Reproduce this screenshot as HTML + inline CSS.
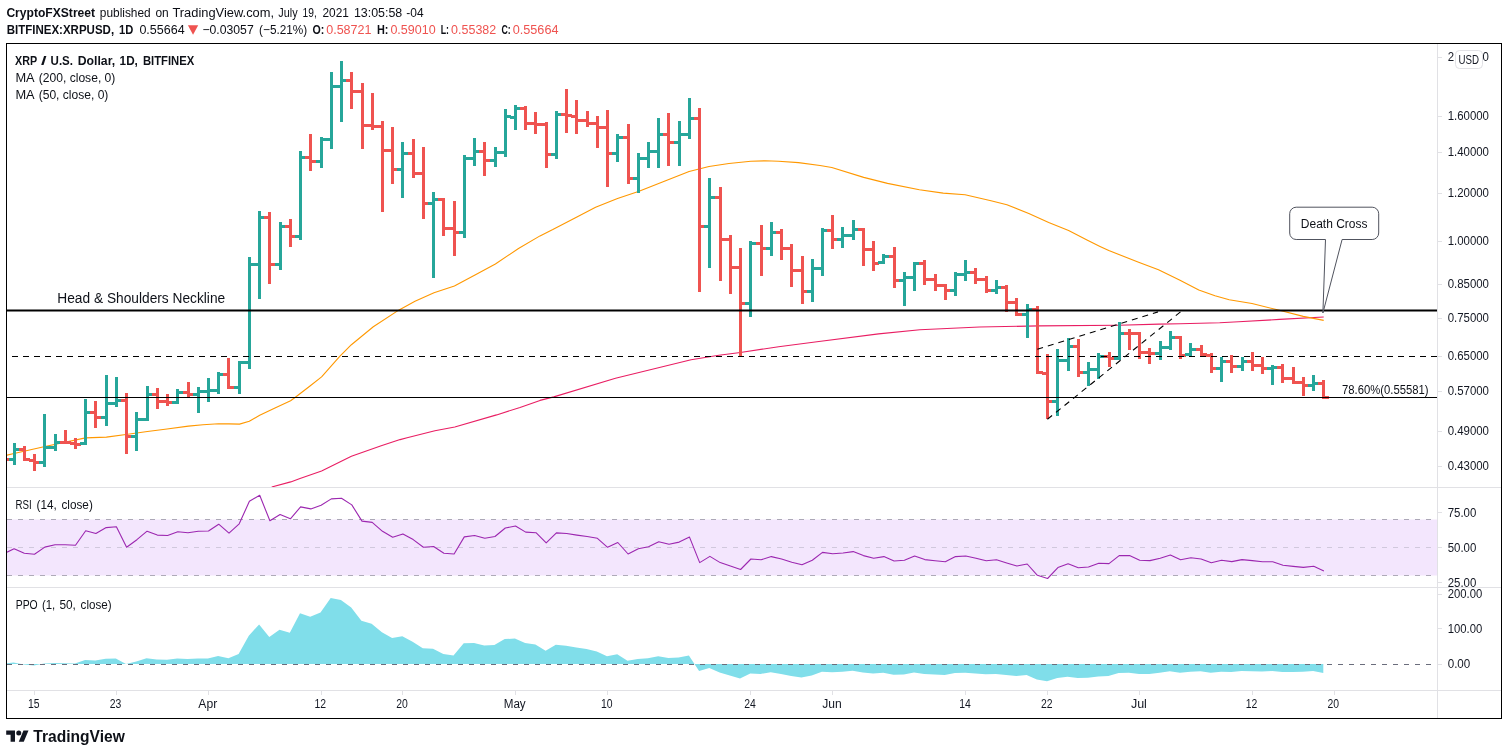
<!DOCTYPE html><html><head><meta charset="utf-8"><title>XRPUSD</title><style>html,body{margin:0;padding:0;background:#fff;}body{width:1508px;height:755px;position:relative;overflow:hidden;font-family:"Liberation Sans",sans-serif;}</style></head><body>
<svg width="1508" height="755" viewBox="0 0 1508 755" style="position:absolute;left:0;top:0;will-change:transform">
<defs><clipPath id="cm"><rect x="7" y="44" width="1430" height="443"/></clipPath><clipPath id="cr"><rect x="7" y="488" width="1430" height="99"/></clipPath><clipPath id="cp"><rect x="7" y="588" width="1430" height="102"/></clipPath><clipPath id="cax1"><rect x="1438" y="44" width="63" height="443"/></clipPath><clipPath id="cax2"><rect x="1438" y="488" width="63" height="99"/></clipPath><clipPath id="cax3"><rect x="1438" y="588" width="63" height="102"/></clipPath></defs>
<rect x="0" y="0" width="1508" height="755" fill="#fff"/>
<g clip-path="url(#cr)">
<rect x="7" y="519.5" width="1430" height="56" fill="#f3e6fd"/>
<line x1="7" y1="519.5" x2="1437" y2="519.5" stroke="#aca8b7" stroke-width="1" stroke-dasharray="5 6" shape-rendering="crispEdges"/>
<line x1="7" y1="547.5" x2="1437" y2="547.5" stroke="#d0c8dc" stroke-width="1" stroke-dasharray="5 6" shape-rendering="crispEdges"/>
<line x1="7" y1="575.5" x2="1437" y2="575.5" stroke="#aeaab8" stroke-width="1" stroke-dasharray="5 6" shape-rendering="crispEdges"/>
<polyline fill="none" stroke="#9c27b0" stroke-width="1.1" stroke-linejoin="round" points="7.0,552.2 14.1,548.7 24.3,553.2 34.5,554.2 44.8,547.1 55.0,544.7 65.2,544.7 75.5,545.3 85.7,530.8 95.9,533.5 106.2,527.6 116.4,526.8 126.6,547.3 136.9,539.7 147.1,531.2 157.3,535.1 167.6,535.5 177.8,531.7 188.0,532.7 198.3,531.2 208.5,531.0 218.7,524.2 229.0,533.1 239.2,523.8 249.4,501.3 259.7,495.3 269.9,520.8 280.1,514.5 290.4,518.8 300.6,506.9 310.8,508.9 321.1,505.3 331.3,498.9 341.5,498.3 351.8,504.9 362.0,521.1 372.2,522.4 382.5,531.3 392.7,537.3 402.9,533.9 413.2,539.6 423.4,547.3 433.6,546.5 443.9,553.2 454.1,554.0 464.3,536.9 474.6,535.5 484.8,538.3 495.0,536.5 505.3,528.0 515.5,526.0 525.7,532.1 536.0,532.7 546.2,542.9 556.4,532.9 566.7,533.5 576.9,535.1 587.1,536.5 597.4,538.3 607.6,547.3 617.8,542.5 628.1,554.0 638.3,548.7 648.5,546.7 658.8,541.7 669.0,544.3 679.2,542.1 689.5,537.1 699.7,562.6 709.9,556.4 720.2,562.6 730.4,566.0 740.6,569.5 750.9,559.0 761.1,559.8 771.3,556.6 781.6,559.0 791.8,562.2 802.0,564.8 812.3,560.2 822.5,552.4 832.7,553.8 843.0,553.0 853.2,551.6 863.4,555.6 873.7,558.2 883.9,556.6 894.1,561.0 904.4,560.2 914.6,556.0 924.8,559.6 935.1,560.8 945.3,561.8 955.5,556.6 965.8,556.0 976.0,558.2 986.2,560.8 996.5,559.8 1006.7,563.0 1016.9,566.0 1027.2,564.0 1037.4,575.3 1047.6,578.5 1057.9,567.6 1068.1,563.8 1078.3,567.8 1088.5,567.0 1098.8,563.2 1109.0,563.6 1119.2,555.6 1129.5,555.6 1139.7,560.2 1149.9,560.6 1160.2,558.2 1170.4,555.0 1180.6,559.8 1190.9,557.8 1201.1,559.0 1211.3,562.8 1221.6,560.2 1231.8,561.6 1242.0,559.6 1252.3,560.6 1262.5,561.8 1272.7,561.8 1283.0,565.2 1293.2,566.4 1303.4,567.4 1313.7,566.2 1323.9,570.9"/>
</g>
<g clip-path="url(#cp)">
<polygon fill="#80deea" points="7.0,664.0 7.0,663.2 13.5,662.6 23.7,664.6 33.9,665.6 44.2,663.6 54.4,663.0 64.6,663.2 74.9,663.4 85.1,660.0 95.3,660.6 105.6,658.8 115.8,658.6 126.0,664.0 136.3,661.6 146.5,658.2 156.7,659.4 167.0,659.8 177.2,658.4 187.4,659.0 197.7,658.6 207.9,658.6 218.1,656.0 228.4,658.2 238.6,654.0 248.8,635.7 259.1,624.4 269.3,637.1 279.5,629.8 289.8,632.7 300.0,613.2 310.2,616.8 320.5,612.5 330.7,597.9 340.9,599.9 351.2,607.5 361.4,620.8 371.6,623.8 381.9,632.3 392.1,637.9 402.3,636.3 412.6,641.7 422.8,648.3 433.0,648.7 443.3,654.0 453.5,655.4 463.7,643.3 474.0,642.9 484.2,645.5 494.4,645.1 504.7,639.1 514.9,638.5 525.1,642.9 535.4,644.5 545.6,650.8 555.8,644.7 566.1,645.7 576.3,647.5 586.5,649.1 596.8,651.4 607.0,656.2 617.2,654.2 627.5,660.8 637.7,659.0 647.9,658.2 658.2,656.2 668.4,658.0 678.6,657.4 688.9,655.4 699.1,670.9 709.3,668.0 719.6,672.5 729.8,675.5 740.0,678.5 750.3,673.5 760.5,673.9 770.7,672.3 781.0,673.9 791.2,676.1 801.4,677.5 811.7,675.5 821.9,671.7 832.1,672.3 842.4,671.7 852.6,670.7 862.8,672.5 873.1,673.5 883.3,672.7 893.5,674.7 903.8,674.4 914.0,672.5 924.2,673.9 934.5,674.5 944.7,674.9 954.9,673.1 965.2,672.7 975.4,673.5 985.6,674.3 995.9,673.9 1006.1,674.9 1016.3,675.9 1026.6,674.9 1036.8,679.5 1047.0,681.3 1057.3,678.1 1067.5,676.7 1077.7,678.1 1087.9,677.7 1098.2,676.5 1108.4,675.9 1118.6,673.1 1128.9,672.7 1139.1,674.1 1149.3,673.9 1159.6,672.7 1169.8,671.3 1180.0,672.7 1190.3,671.7 1200.5,671.3 1210.7,672.7 1221.0,671.7 1231.2,671.9 1241.4,670.9 1251.7,671.3 1261.9,671.5 1272.1,671.1 1282.4,671.9 1292.6,671.9 1302.8,671.7 1313.1,671.1 1323.3,673.1 1323.3,664.0"/>
<line x1="7" y1="664.5" x2="1437" y2="664.5" stroke="#6a6d7c" stroke-width="1" stroke-dasharray="5 6" shape-rendering="crispEdges"/>
</g>
<rect x="7" y="487" width="1494" height="1" fill="#e1e1e5"/>
<rect x="7" y="587" width="1494" height="1" fill="#e1e1e5"/>
<rect x="7" y="690" width="1494" height="1" fill="#e1e1e5"/>
<rect x="1437" y="44" width="1" height="674" fill="#e1e1e5"/>
<g clip-path="url(#cm)">
<polyline fill="none" stroke="#e91e63" stroke-width="1.1" stroke-linejoin="round" points="271.7,487.0 290.7,481.9 300.0,478.5 321.6,471.0 351.4,456.2 381.2,445.7 400.1,439.6 407.1,437.7 434.9,430.8 454.8,427.0 496.6,414.9 520.0,407.4 540.0,400.4 553.8,396.9 615.5,378.2 691.1,359.7 718.9,355.3 740.4,352.5 778.6,346.7 818.9,341.5 878.6,333.9 919.9,329.7 979.5,327.0 1039.1,325.9 1118.7,325.2 1159.0,324.1 1180.0,323.8 1219.7,322.8 1238.6,321.8 1279.4,319.4 1323.7,317.0"/>
<polyline fill="none" stroke="#ff9800" stroke-width="1.1" stroke-linejoin="round" points="6.0,455.4 14.0,453.5 45.0,446.5 85.5,437.9 106.4,437.1 126.0,434.5 147.4,431.5 167.0,429.0 188.4,426.1 203.0,424.8 218.4,423.7 229.0,423.9 239.5,424.1 249.3,421.3 259.7,415.2 275.0,408.0 290.6,400.8 295.7,397.0 310.0,386.0 321.6,376.9 339.5,356.6 351.4,344.7 373.3,326.8 399.1,309.9 415.0,301.3 434.0,292.8 454.4,285.9 475.0,275.0 495.4,264.0 518.5,248.5 540.0,235.9 552.8,229.6 575.0,218.0 595.6,207.3 617.5,198.4 638.4,191.4 665.0,181.0 689.1,171.5 709.0,166.5 728.9,163.5 750.8,161.2 765.0,160.8 778.6,161.2 798.5,162.6 820.0,165.5 831.8,167.5 863.7,177.4 887.5,183.4 919.4,189.7 943.2,193.1 965.1,194.7 991.0,200.7 1006.9,204.7 1028.8,213.6 1048.7,222.6 1068.6,230.5 1087.0,240.0 1100.0,246.4 1108.8,250.5 1138.6,262.3 1158.5,269.8 1180.0,280.2 1198.8,290.0 1215.0,295.8 1229.2,299.7 1252.0,303.5 1277.4,309.8 1303.2,316.4 1323.7,320.4"/>
<g shape-rendering="crispEdges">
<rect x="5" y="458" width="4" height="3" fill="#ef5350"/>
<rect x="13" y="443" width="3" height="22" fill="#26a69a"/>
<rect x="9" y="458" width="4" height="3" fill="#26a69a"/>
<rect x="16" y="448" width="4" height="3" fill="#26a69a"/>
<rect x="23" y="446" width="3" height="15" fill="#ef5350"/>
<rect x="19" y="448" width="4" height="3" fill="#ef5350"/>
<rect x="26" y="458" width="4" height="3" fill="#ef5350"/>
<rect x="33" y="454" width="3" height="17" fill="#ef5350"/>
<rect x="29" y="459" width="4" height="3" fill="#ef5350"/>
<rect x="36" y="461" width="4" height="3" fill="#ef5350"/>
<rect x="43" y="414" width="3" height="53" fill="#26a69a"/>
<rect x="39" y="461" width="4" height="3" fill="#26a69a"/>
<rect x="46" y="446" width="4" height="3" fill="#26a69a"/>
<rect x="54" y="434" width="3" height="17" fill="#26a69a"/>
<rect x="50" y="446" width="4" height="3" fill="#26a69a"/>
<rect x="57" y="441" width="4" height="3" fill="#26a69a"/>
<rect x="64" y="430" width="3" height="14" fill="#ef5350"/>
<rect x="60" y="441" width="4" height="3" fill="#ef5350"/>
<rect x="67" y="441" width="4" height="3" fill="#ef5350"/>
<rect x="74" y="438" width="3" height="11" fill="#ef5350"/>
<rect x="70" y="442" width="4" height="3" fill="#ef5350"/>
<rect x="77" y="443" width="4" height="3" fill="#ef5350"/>
<rect x="84" y="399" width="3" height="46" fill="#26a69a"/>
<rect x="80" y="442" width="4" height="3" fill="#26a69a"/>
<rect x="87" y="411" width="4" height="3" fill="#26a69a"/>
<rect x="94" y="401" width="3" height="27" fill="#ef5350"/>
<rect x="90" y="411" width="4" height="3" fill="#ef5350"/>
<rect x="97" y="416" width="4" height="3" fill="#ef5350"/>
<rect x="105" y="375" width="3" height="51" fill="#26a69a"/>
<rect x="101" y="416" width="4" height="3" fill="#26a69a"/>
<rect x="108" y="402" width="4" height="3" fill="#26a69a"/>
<rect x="115" y="377" width="3" height="30" fill="#26a69a"/>
<rect x="111" y="402" width="4" height="3" fill="#26a69a"/>
<rect x="118" y="399" width="4" height="3" fill="#26a69a"/>
<rect x="125" y="393" width="3" height="61" fill="#ef5350"/>
<rect x="121" y="399" width="4" height="3" fill="#ef5350"/>
<rect x="128" y="435" width="4" height="3" fill="#ef5350"/>
<rect x="135" y="412" width="3" height="39" fill="#26a69a"/>
<rect x="131" y="435" width="4" height="3" fill="#26a69a"/>
<rect x="138" y="418" width="4" height="3" fill="#26a69a"/>
<rect x="146" y="386" width="3" height="35" fill="#26a69a"/>
<rect x="142" y="418" width="4" height="3" fill="#26a69a"/>
<rect x="149" y="393" width="4" height="3" fill="#26a69a"/>
<rect x="156" y="388" width="3" height="21" fill="#ef5350"/>
<rect x="152" y="393" width="4" height="3" fill="#ef5350"/>
<rect x="159" y="400" width="4" height="3" fill="#ef5350"/>
<rect x="166" y="394" width="3" height="12" fill="#ef5350"/>
<rect x="162" y="400" width="4" height="3" fill="#ef5350"/>
<rect x="169" y="401" width="4" height="3" fill="#ef5350"/>
<rect x="176" y="389" width="3" height="15" fill="#26a69a"/>
<rect x="172" y="401" width="4" height="3" fill="#26a69a"/>
<rect x="179" y="391" width="4" height="3" fill="#26a69a"/>
<rect x="187" y="382" width="3" height="15" fill="#ef5350"/>
<rect x="183" y="391" width="4" height="3" fill="#ef5350"/>
<rect x="190" y="393" width="4" height="3" fill="#ef5350"/>
<rect x="197" y="387" width="3" height="26" fill="#26a69a"/>
<rect x="193" y="393" width="4" height="3" fill="#26a69a"/>
<rect x="200" y="390" width="4" height="3" fill="#26a69a"/>
<rect x="207" y="378" width="3" height="24" fill="#26a69a"/>
<rect x="203" y="390" width="4" height="3" fill="#26a69a"/>
<rect x="210" y="389" width="4" height="3" fill="#26a69a"/>
<rect x="217" y="372" width="3" height="22" fill="#26a69a"/>
<rect x="213" y="389" width="4" height="3" fill="#26a69a"/>
<rect x="220" y="373" width="4" height="3" fill="#26a69a"/>
<rect x="227" y="358" width="3" height="31" fill="#ef5350"/>
<rect x="223" y="373" width="4" height="3" fill="#ef5350"/>
<rect x="230" y="386" width="4" height="3" fill="#ef5350"/>
<rect x="238" y="361" width="3" height="33" fill="#26a69a"/>
<rect x="234" y="386" width="4" height="3" fill="#26a69a"/>
<rect x="241" y="361" width="4" height="3" fill="#26a69a"/>
<rect x="248" y="257" width="3" height="112" fill="#26a69a"/>
<rect x="244" y="361" width="4" height="3" fill="#26a69a"/>
<rect x="251" y="263" width="4" height="3" fill="#26a69a"/>
<rect x="258" y="211" width="3" height="88" fill="#26a69a"/>
<rect x="254" y="263" width="4" height="3" fill="#26a69a"/>
<rect x="261" y="216" width="4" height="3" fill="#26a69a"/>
<rect x="268" y="212" width="3" height="72" fill="#ef5350"/>
<rect x="264" y="216" width="4" height="3" fill="#ef5350"/>
<rect x="271" y="263" width="4" height="3" fill="#ef5350"/>
<rect x="279" y="222" width="3" height="48" fill="#26a69a"/>
<rect x="275" y="263" width="4" height="3" fill="#26a69a"/>
<rect x="282" y="225" width="4" height="3" fill="#26a69a"/>
<rect x="289" y="219" width="3" height="28" fill="#ef5350"/>
<rect x="285" y="225" width="4" height="3" fill="#ef5350"/>
<rect x="292" y="235" width="4" height="3" fill="#ef5350"/>
<rect x="299" y="151" width="3" height="89" fill="#26a69a"/>
<rect x="295" y="235" width="4" height="3" fill="#26a69a"/>
<rect x="302" y="156" width="4" height="3" fill="#26a69a"/>
<rect x="309" y="134" width="3" height="37" fill="#ef5350"/>
<rect x="305" y="156" width="4" height="3" fill="#ef5350"/>
<rect x="312" y="160" width="4" height="3" fill="#ef5350"/>
<rect x="320" y="137" width="3" height="31" fill="#26a69a"/>
<rect x="316" y="160" width="4" height="3" fill="#26a69a"/>
<rect x="323" y="138" width="4" height="3" fill="#26a69a"/>
<rect x="330" y="72" width="3" height="77" fill="#26a69a"/>
<rect x="326" y="138" width="4" height="3" fill="#26a69a"/>
<rect x="333" y="85" width="4" height="3" fill="#26a69a"/>
<rect x="340" y="61" width="3" height="61" fill="#26a69a"/>
<rect x="336" y="85" width="4" height="3" fill="#26a69a"/>
<rect x="343" y="79" width="4" height="3" fill="#26a69a"/>
<rect x="350" y="72" width="3" height="37" fill="#ef5350"/>
<rect x="346" y="79" width="4" height="3" fill="#ef5350"/>
<rect x="353" y="90" width="4" height="3" fill="#ef5350"/>
<rect x="361" y="83" width="3" height="66" fill="#ef5350"/>
<rect x="357" y="90" width="4" height="3" fill="#ef5350"/>
<rect x="364" y="124" width="4" height="3" fill="#ef5350"/>
<rect x="371" y="93" width="3" height="37" fill="#ef5350"/>
<rect x="367" y="124" width="4" height="3" fill="#ef5350"/>
<rect x="374" y="125" width="4" height="3" fill="#ef5350"/>
<rect x="381" y="121" width="3" height="91" fill="#ef5350"/>
<rect x="377" y="125" width="4" height="3" fill="#ef5350"/>
<rect x="384" y="149" width="4" height="3" fill="#ef5350"/>
<rect x="391" y="127" width="3" height="57" fill="#ef5350"/>
<rect x="387" y="149" width="4" height="3" fill="#ef5350"/>
<rect x="394" y="168" width="4" height="3" fill="#ef5350"/>
<rect x="401" y="142" width="3" height="56" fill="#26a69a"/>
<rect x="397" y="168" width="4" height="3" fill="#26a69a"/>
<rect x="404" y="152" width="4" height="3" fill="#26a69a"/>
<rect x="412" y="139" width="3" height="39" fill="#ef5350"/>
<rect x="408" y="152" width="4" height="3" fill="#ef5350"/>
<rect x="415" y="172" width="4" height="3" fill="#ef5350"/>
<rect x="422" y="147" width="3" height="72" fill="#ef5350"/>
<rect x="418" y="172" width="4" height="3" fill="#ef5350"/>
<rect x="425" y="202" width="4" height="3" fill="#ef5350"/>
<rect x="432" y="192" width="3" height="86" fill="#26a69a"/>
<rect x="428" y="202" width="4" height="3" fill="#26a69a"/>
<rect x="435" y="198" width="4" height="3" fill="#26a69a"/>
<rect x="442" y="198" width="3" height="38" fill="#ef5350"/>
<rect x="438" y="198" width="4" height="3" fill="#ef5350"/>
<rect x="445" y="227" width="4" height="3" fill="#ef5350"/>
<rect x="453" y="201" width="3" height="55" fill="#ef5350"/>
<rect x="449" y="227" width="4" height="3" fill="#ef5350"/>
<rect x="456" y="231" width="4" height="3" fill="#ef5350"/>
<rect x="463" y="155" width="3" height="83" fill="#26a69a"/>
<rect x="459" y="231" width="4" height="3" fill="#26a69a"/>
<rect x="466" y="157" width="4" height="3" fill="#26a69a"/>
<rect x="473" y="138" width="3" height="28" fill="#26a69a"/>
<rect x="469" y="157" width="4" height="3" fill="#26a69a"/>
<rect x="476" y="150" width="4" height="3" fill="#26a69a"/>
<rect x="483" y="142" width="3" height="34" fill="#ef5350"/>
<rect x="479" y="150" width="4" height="3" fill="#ef5350"/>
<rect x="486" y="159" width="4" height="3" fill="#ef5350"/>
<rect x="494" y="147" width="3" height="20" fill="#26a69a"/>
<rect x="490" y="159" width="4" height="3" fill="#26a69a"/>
<rect x="497" y="151" width="4" height="3" fill="#26a69a"/>
<rect x="504" y="109" width="3" height="48" fill="#26a69a"/>
<rect x="500" y="151" width="4" height="3" fill="#26a69a"/>
<rect x="507" y="115" width="4" height="3" fill="#26a69a"/>
<rect x="514" y="105" width="3" height="25" fill="#26a69a"/>
<rect x="510" y="116" width="4" height="3" fill="#26a69a"/>
<rect x="517" y="107" width="4" height="3" fill="#26a69a"/>
<rect x="524" y="106" width="3" height="24" fill="#ef5350"/>
<rect x="520" y="107" width="4" height="3" fill="#ef5350"/>
<rect x="527" y="122" width="4" height="3" fill="#ef5350"/>
<rect x="534" y="112" width="3" height="22" fill="#ef5350"/>
<rect x="530" y="122" width="4" height="3" fill="#ef5350"/>
<rect x="537" y="123" width="4" height="3" fill="#ef5350"/>
<rect x="545" y="122" width="3" height="46" fill="#ef5350"/>
<rect x="541" y="123" width="4" height="3" fill="#ef5350"/>
<rect x="548" y="153" width="4" height="3" fill="#ef5350"/>
<rect x="555" y="111" width="3" height="48" fill="#26a69a"/>
<rect x="551" y="153" width="4" height="3" fill="#26a69a"/>
<rect x="558" y="113" width="4" height="3" fill="#26a69a"/>
<rect x="565" y="89" width="3" height="44" fill="#ef5350"/>
<rect x="561" y="113" width="4" height="3" fill="#ef5350"/>
<rect x="568" y="114" width="4" height="3" fill="#ef5350"/>
<rect x="575" y="100" width="3" height="34" fill="#ef5350"/>
<rect x="571" y="115" width="4" height="3" fill="#ef5350"/>
<rect x="578" y="119" width="4" height="3" fill="#ef5350"/>
<rect x="586" y="111" width="3" height="16" fill="#ef5350"/>
<rect x="582" y="119" width="4" height="3" fill="#ef5350"/>
<rect x="589" y="122" width="4" height="3" fill="#ef5350"/>
<rect x="596" y="116" width="3" height="32" fill="#ef5350"/>
<rect x="592" y="122" width="4" height="3" fill="#ef5350"/>
<rect x="599" y="126" width="4" height="3" fill="#ef5350"/>
<rect x="606" y="110" width="3" height="77" fill="#ef5350"/>
<rect x="602" y="126" width="4" height="3" fill="#ef5350"/>
<rect x="609" y="152" width="4" height="3" fill="#ef5350"/>
<rect x="616" y="134" width="3" height="28" fill="#26a69a"/>
<rect x="612" y="152" width="4" height="3" fill="#26a69a"/>
<rect x="619" y="136" width="4" height="3" fill="#26a69a"/>
<rect x="627" y="124" width="3" height="60" fill="#ef5350"/>
<rect x="623" y="136" width="4" height="3" fill="#ef5350"/>
<rect x="630" y="177" width="4" height="3" fill="#ef5350"/>
<rect x="637" y="153" width="3" height="40" fill="#26a69a"/>
<rect x="633" y="177" width="4" height="3" fill="#26a69a"/>
<rect x="640" y="157" width="4" height="3" fill="#26a69a"/>
<rect x="647" y="142" width="3" height="26" fill="#26a69a"/>
<rect x="643" y="157" width="4" height="3" fill="#26a69a"/>
<rect x="650" y="150" width="4" height="3" fill="#26a69a"/>
<rect x="657" y="118" width="3" height="50" fill="#26a69a"/>
<rect x="653" y="150" width="4" height="3" fill="#26a69a"/>
<rect x="660" y="133" width="4" height="3" fill="#26a69a"/>
<rect x="667" y="113" width="3" height="53" fill="#ef5350"/>
<rect x="663" y="133" width="4" height="3" fill="#ef5350"/>
<rect x="670" y="141" width="4" height="3" fill="#ef5350"/>
<rect x="678" y="121" width="3" height="45" fill="#26a69a"/>
<rect x="674" y="141" width="4" height="3" fill="#26a69a"/>
<rect x="681" y="133" width="4" height="3" fill="#26a69a"/>
<rect x="688" y="98" width="3" height="41" fill="#26a69a"/>
<rect x="684" y="133" width="4" height="3" fill="#26a69a"/>
<rect x="691" y="117" width="4" height="3" fill="#26a69a"/>
<rect x="698" y="108" width="3" height="184" fill="#ef5350"/>
<rect x="694" y="117" width="4" height="3" fill="#ef5350"/>
<rect x="701" y="225" width="4" height="3" fill="#ef5350"/>
<rect x="708" y="178" width="3" height="90" fill="#26a69a"/>
<rect x="704" y="225" width="4" height="3" fill="#26a69a"/>
<rect x="711" y="196" width="4" height="3" fill="#26a69a"/>
<rect x="719" y="187" width="3" height="94" fill="#ef5350"/>
<rect x="715" y="196" width="4" height="3" fill="#ef5350"/>
<rect x="722" y="238" width="4" height="3" fill="#ef5350"/>
<rect x="729" y="235" width="3" height="59" fill="#ef5350"/>
<rect x="725" y="238" width="4" height="3" fill="#ef5350"/>
<rect x="732" y="266" width="4" height="3" fill="#ef5350"/>
<rect x="739" y="248" width="3" height="108" fill="#ef5350"/>
<rect x="735" y="266" width="4" height="3" fill="#ef5350"/>
<rect x="742" y="302" width="4" height="3" fill="#ef5350"/>
<rect x="749" y="241" width="3" height="76" fill="#26a69a"/>
<rect x="745" y="302" width="4" height="3" fill="#26a69a"/>
<rect x="752" y="242" width="4" height="3" fill="#26a69a"/>
<rect x="760" y="225" width="3" height="51" fill="#ef5350"/>
<rect x="756" y="242" width="4" height="3" fill="#ef5350"/>
<rect x="763" y="247" width="4" height="3" fill="#ef5350"/>
<rect x="770" y="222" width="3" height="34" fill="#26a69a"/>
<rect x="766" y="247" width="4" height="3" fill="#26a69a"/>
<rect x="773" y="231" width="4" height="3" fill="#26a69a"/>
<rect x="780" y="229" width="3" height="31" fill="#ef5350"/>
<rect x="776" y="231" width="4" height="3" fill="#ef5350"/>
<rect x="783" y="247" width="4" height="3" fill="#ef5350"/>
<rect x="790" y="244" width="3" height="43" fill="#ef5350"/>
<rect x="786" y="247" width="4" height="3" fill="#ef5350"/>
<rect x="793" y="269" width="4" height="3" fill="#ef5350"/>
<rect x="801" y="256" width="3" height="48" fill="#ef5350"/>
<rect x="797" y="269" width="4" height="3" fill="#ef5350"/>
<rect x="804" y="290" width="4" height="3" fill="#ef5350"/>
<rect x="811" y="259" width="3" height="43" fill="#26a69a"/>
<rect x="807" y="290" width="4" height="3" fill="#26a69a"/>
<rect x="814" y="267" width="4" height="3" fill="#26a69a"/>
<rect x="821" y="228" width="3" height="48" fill="#26a69a"/>
<rect x="817" y="267" width="4" height="3" fill="#26a69a"/>
<rect x="824" y="229" width="4" height="3" fill="#26a69a"/>
<rect x="831" y="215" width="3" height="34" fill="#ef5350"/>
<rect x="827" y="229" width="4" height="3" fill="#ef5350"/>
<rect x="834" y="238" width="4" height="3" fill="#ef5350"/>
<rect x="841" y="227" width="3" height="21" fill="#26a69a"/>
<rect x="837" y="238" width="4" height="3" fill="#26a69a"/>
<rect x="844" y="234" width="4" height="3" fill="#26a69a"/>
<rect x="852" y="220" width="3" height="20" fill="#26a69a"/>
<rect x="848" y="234" width="4" height="3" fill="#26a69a"/>
<rect x="855" y="228" width="4" height="3" fill="#26a69a"/>
<rect x="862" y="228" width="3" height="38" fill="#ef5350"/>
<rect x="858" y="228" width="4" height="3" fill="#ef5350"/>
<rect x="865" y="248" width="4" height="3" fill="#ef5350"/>
<rect x="872" y="241" width="3" height="30" fill="#ef5350"/>
<rect x="868" y="248" width="4" height="3" fill="#ef5350"/>
<rect x="875" y="262" width="4" height="3" fill="#ef5350"/>
<rect x="882" y="254" width="3" height="10" fill="#26a69a"/>
<rect x="878" y="261" width="4" height="3" fill="#26a69a"/>
<rect x="885" y="255" width="4" height="3" fill="#26a69a"/>
<rect x="893" y="247" width="3" height="41" fill="#ef5350"/>
<rect x="889" y="255" width="4" height="3" fill="#ef5350"/>
<rect x="896" y="279" width="4" height="3" fill="#ef5350"/>
<rect x="903" y="272" width="3" height="34" fill="#26a69a"/>
<rect x="899" y="279" width="4" height="3" fill="#26a69a"/>
<rect x="906" y="276" width="4" height="3" fill="#26a69a"/>
<rect x="913" y="262" width="3" height="29" fill="#26a69a"/>
<rect x="909" y="276" width="4" height="3" fill="#26a69a"/>
<rect x="916" y="262" width="4" height="3" fill="#26a69a"/>
<rect x="923" y="260" width="3" height="25" fill="#ef5350"/>
<rect x="919" y="262" width="4" height="3" fill="#ef5350"/>
<rect x="926" y="278" width="4" height="3" fill="#ef5350"/>
<rect x="934" y="274" width="3" height="17" fill="#ef5350"/>
<rect x="930" y="278" width="4" height="3" fill="#ef5350"/>
<rect x="937" y="284" width="4" height="3" fill="#ef5350"/>
<rect x="944" y="284" width="3" height="16" fill="#ef5350"/>
<rect x="940" y="284" width="4" height="3" fill="#ef5350"/>
<rect x="947" y="289" width="4" height="3" fill="#ef5350"/>
<rect x="954" y="272" width="3" height="24" fill="#26a69a"/>
<rect x="950" y="289" width="4" height="3" fill="#26a69a"/>
<rect x="957" y="273" width="4" height="3" fill="#26a69a"/>
<rect x="964" y="260" width="3" height="21" fill="#26a69a"/>
<rect x="960" y="273" width="4" height="3" fill="#26a69a"/>
<rect x="967" y="271" width="4" height="3" fill="#26a69a"/>
<rect x="974" y="268" width="3" height="16" fill="#ef5350"/>
<rect x="970" y="271" width="4" height="3" fill="#ef5350"/>
<rect x="977" y="278" width="4" height="3" fill="#ef5350"/>
<rect x="985" y="276" width="3" height="17" fill="#ef5350"/>
<rect x="981" y="278" width="4" height="3" fill="#ef5350"/>
<rect x="988" y="289" width="4" height="3" fill="#ef5350"/>
<rect x="995" y="280" width="3" height="14" fill="#26a69a"/>
<rect x="991" y="289" width="4" height="3" fill="#26a69a"/>
<rect x="998" y="286" width="4" height="3" fill="#26a69a"/>
<rect x="1005" y="285" width="3" height="27" fill="#ef5350"/>
<rect x="1001" y="286" width="4" height="3" fill="#ef5350"/>
<rect x="1008" y="301" width="4" height="3" fill="#ef5350"/>
<rect x="1015" y="298" width="3" height="18" fill="#ef5350"/>
<rect x="1011" y="301" width="4" height="3" fill="#ef5350"/>
<rect x="1018" y="313" width="4" height="3" fill="#ef5350"/>
<rect x="1026" y="304" width="3" height="34" fill="#26a69a"/>
<rect x="1022" y="313" width="4" height="3" fill="#26a69a"/>
<rect x="1029" y="308" width="4" height="3" fill="#26a69a"/>
<rect x="1036" y="306" width="3" height="68" fill="#ef5350"/>
<rect x="1032" y="308" width="4" height="3" fill="#ef5350"/>
<rect x="1039" y="371" width="4" height="3" fill="#ef5350"/>
<rect x="1046" y="354" width="3" height="65" fill="#ef5350"/>
<rect x="1042" y="372" width="4" height="3" fill="#ef5350"/>
<rect x="1049" y="400" width="4" height="3" fill="#ef5350"/>
<rect x="1056" y="349" width="3" height="67" fill="#26a69a"/>
<rect x="1052" y="400" width="4" height="3" fill="#26a69a"/>
<rect x="1059" y="359" width="4" height="3" fill="#26a69a"/>
<rect x="1067" y="338" width="3" height="33" fill="#26a69a"/>
<rect x="1063" y="359" width="4" height="3" fill="#26a69a"/>
<rect x="1070" y="345" width="4" height="3" fill="#26a69a"/>
<rect x="1077" y="339" width="3" height="38" fill="#ef5350"/>
<rect x="1073" y="345" width="4" height="3" fill="#ef5350"/>
<rect x="1080" y="371" width="4" height="3" fill="#ef5350"/>
<rect x="1087" y="362" width="3" height="24" fill="#26a69a"/>
<rect x="1083" y="371" width="4" height="3" fill="#26a69a"/>
<rect x="1090" y="368" width="4" height="3" fill="#26a69a"/>
<rect x="1097" y="353" width="3" height="26" fill="#26a69a"/>
<rect x="1093" y="368" width="4" height="3" fill="#26a69a"/>
<rect x="1100" y="355" width="4" height="3" fill="#26a69a"/>
<rect x="1108" y="352" width="3" height="15" fill="#ef5350"/>
<rect x="1104" y="355" width="4" height="3" fill="#ef5350"/>
<rect x="1111" y="357" width="4" height="3" fill="#ef5350"/>
<rect x="1118" y="322" width="3" height="38" fill="#26a69a"/>
<rect x="1114" y="357" width="4" height="3" fill="#26a69a"/>
<rect x="1121" y="332" width="4" height="3" fill="#26a69a"/>
<rect x="1128" y="329" width="3" height="21" fill="#ef5350"/>
<rect x="1124" y="332" width="4" height="3" fill="#ef5350"/>
<rect x="1131" y="332" width="4" height="3" fill="#ef5350"/>
<rect x="1138" y="332" width="3" height="27" fill="#ef5350"/>
<rect x="1134" y="332" width="4" height="3" fill="#ef5350"/>
<rect x="1141" y="351" width="4" height="3" fill="#ef5350"/>
<rect x="1148" y="348" width="3" height="16" fill="#ef5350"/>
<rect x="1144" y="351" width="4" height="3" fill="#ef5350"/>
<rect x="1151" y="352" width="4" height="3" fill="#ef5350"/>
<rect x="1159" y="341" width="3" height="19" fill="#26a69a"/>
<rect x="1155" y="352" width="4" height="3" fill="#26a69a"/>
<rect x="1162" y="346" width="4" height="3" fill="#26a69a"/>
<rect x="1169" y="331" width="3" height="19" fill="#26a69a"/>
<rect x="1165" y="346" width="4" height="3" fill="#26a69a"/>
<rect x="1172" y="336" width="4" height="3" fill="#26a69a"/>
<rect x="1179" y="336" width="3" height="23" fill="#ef5350"/>
<rect x="1175" y="336" width="4" height="3" fill="#ef5350"/>
<rect x="1182" y="354" width="4" height="3" fill="#ef5350"/>
<rect x="1189" y="343" width="3" height="13" fill="#26a69a"/>
<rect x="1185" y="353" width="4" height="3" fill="#26a69a"/>
<rect x="1192" y="348" width="4" height="3" fill="#26a69a"/>
<rect x="1200" y="345" width="3" height="11" fill="#ef5350"/>
<rect x="1196" y="348" width="4" height="3" fill="#ef5350"/>
<rect x="1203" y="353" width="4" height="3" fill="#ef5350"/>
<rect x="1210" y="353" width="3" height="20" fill="#ef5350"/>
<rect x="1206" y="354" width="4" height="3" fill="#ef5350"/>
<rect x="1213" y="367" width="4" height="3" fill="#ef5350"/>
<rect x="1220" y="357" width="3" height="25" fill="#26a69a"/>
<rect x="1216" y="367" width="4" height="3" fill="#26a69a"/>
<rect x="1223" y="360" width="4" height="3" fill="#26a69a"/>
<rect x="1230" y="355" width="3" height="18" fill="#ef5350"/>
<rect x="1226" y="360" width="4" height="3" fill="#ef5350"/>
<rect x="1233" y="365" width="4" height="3" fill="#ef5350"/>
<rect x="1241" y="357" width="3" height="14" fill="#26a69a"/>
<rect x="1237" y="365" width="4" height="3" fill="#26a69a"/>
<rect x="1244" y="360" width="4" height="3" fill="#26a69a"/>
<rect x="1251" y="352" width="3" height="19" fill="#ef5350"/>
<rect x="1247" y="360" width="4" height="3" fill="#ef5350"/>
<rect x="1254" y="364" width="4" height="3" fill="#ef5350"/>
<rect x="1261" y="357" width="3" height="17" fill="#ef5350"/>
<rect x="1257" y="364" width="4" height="3" fill="#ef5350"/>
<rect x="1264" y="367" width="4" height="3" fill="#ef5350"/>
<rect x="1271" y="365" width="3" height="20" fill="#26a69a"/>
<rect x="1267" y="367" width="4" height="3" fill="#26a69a"/>
<rect x="1274" y="366" width="4" height="3" fill="#26a69a"/>
<rect x="1281" y="364" width="3" height="19" fill="#ef5350"/>
<rect x="1277" y="366" width="4" height="3" fill="#ef5350"/>
<rect x="1284" y="377" width="4" height="3" fill="#ef5350"/>
<rect x="1292" y="367" width="3" height="17" fill="#ef5350"/>
<rect x="1288" y="377" width="4" height="3" fill="#ef5350"/>
<rect x="1295" y="381" width="4" height="3" fill="#ef5350"/>
<rect x="1302" y="377" width="3" height="19" fill="#ef5350"/>
<rect x="1298" y="381" width="4" height="3" fill="#ef5350"/>
<rect x="1305" y="384" width="4" height="3" fill="#ef5350"/>
<rect x="1312" y="375" width="3" height="16" fill="#26a69a"/>
<rect x="1308" y="384" width="4" height="3" fill="#26a69a"/>
<rect x="1315" y="382" width="4" height="3" fill="#26a69a"/>
<rect x="1322" y="380" width="3" height="19" fill="#ef5350"/>
<rect x="1318" y="382" width="4" height="3" fill="#ef5350"/>
<rect x="1325" y="396" width="4" height="3" fill="#ef5350"/>
</g>
<rect x="7" y="309.5" width="1430" height="2" fill="#000"/>
<rect x="7" y="397" width="1430" height="1" fill="#000"/>
<line x1="12" y1="356.5" x2="1437" y2="356.5" stroke="#000" stroke-width="1" stroke-dasharray="6 5" shape-rendering="crispEdges"/>
<line x1="1037.3" y1="349.3" x2="1158" y2="311.9" stroke="#000" stroke-width="1.1" stroke-dasharray="6 5"/>
<line x1="1047.4" y1="419.3" x2="1180.5" y2="311.9" stroke="#000" stroke-width="1.1" stroke-dasharray="6 5"/>
</g>
<path d="M1296.2 207.2 H1372.2 a6.5 6.5 0 0 1 6.5 6.5 V233 a6.5 6.5 0 0 1 -6.5 6.5 H1342.1 L1322.9 313 L1325.5 239.5 H1296.2 a6.5 6.5 0 0 1 -6.5 -6.5 V213.7 a6.5 6.5 0 0 1 6.5 -6.5 Z" fill="#fff" stroke="#50535e" stroke-width="1"/>
<g font-family="Liberation Sans, sans-serif">
<g clip-path="url(#cax1)">
<rect x="1438" y="57" width="4" height="1" fill="#e1e1e5"/>
<text x="1447.7" y="61.3" font-size="12" font-weight="normal" fill="#131722" text-anchor="start" textLength="41.3" lengthAdjust="spacingAndGlyphs">2.00000</text>
<rect x="1438" y="116" width="4" height="1" fill="#e1e1e5"/>
<text x="1447.7" y="120.3" font-size="12" font-weight="normal" fill="#131722" text-anchor="start" textLength="41.3" lengthAdjust="spacingAndGlyphs">1.60000</text>
<rect x="1438" y="152" width="4" height="1" fill="#e1e1e5"/>
<text x="1447.7" y="156.3" font-size="12" font-weight="normal" fill="#131722" text-anchor="start" textLength="41.3" lengthAdjust="spacingAndGlyphs">1.40000</text>
<rect x="1438" y="193" width="4" height="1" fill="#e1e1e5"/>
<text x="1447.7" y="197.3" font-size="12" font-weight="normal" fill="#131722" text-anchor="start" textLength="41.3" lengthAdjust="spacingAndGlyphs">1.20000</text>
<rect x="1438" y="241" width="4" height="1" fill="#e1e1e5"/>
<text x="1447.7" y="245.3" font-size="12" font-weight="normal" fill="#131722" text-anchor="start" textLength="41.3" lengthAdjust="spacingAndGlyphs">1.00000</text>
<rect x="1438" y="284" width="4" height="1" fill="#e1e1e5"/>
<text x="1447.7" y="288.3" font-size="12" font-weight="normal" fill="#131722" text-anchor="start" textLength="41.3" lengthAdjust="spacingAndGlyphs">0.85000</text>
<rect x="1438" y="318" width="4" height="1" fill="#e1e1e5"/>
<text x="1447.7" y="322.3" font-size="12" font-weight="normal" fill="#131722" text-anchor="start" textLength="41.3" lengthAdjust="spacingAndGlyphs">0.75000</text>
<rect x="1438" y="356" width="4" height="1" fill="#e1e1e5"/>
<text x="1447.7" y="360.3" font-size="12" font-weight="normal" fill="#131722" text-anchor="start" textLength="41.3" lengthAdjust="spacingAndGlyphs">0.65000</text>
<rect x="1438" y="391" width="4" height="1" fill="#e1e1e5"/>
<text x="1447.7" y="395.3" font-size="12" font-weight="normal" fill="#131722" text-anchor="start" textLength="41.3" lengthAdjust="spacingAndGlyphs">0.57000</text>
<rect x="1438" y="431" width="4" height="1" fill="#e1e1e5"/>
<text x="1447.7" y="435.3" font-size="12" font-weight="normal" fill="#131722" text-anchor="start" textLength="41.3" lengthAdjust="spacingAndGlyphs">0.49000</text>
<rect x="1438" y="466" width="4" height="1" fill="#e1e1e5"/>
<text x="1447.7" y="470.3" font-size="12" font-weight="normal" fill="#131722" text-anchor="start" textLength="41.3" lengthAdjust="spacingAndGlyphs">0.43000</text>
</g>
<g clip-path="url(#cax2)">
<rect x="1438" y="512" width="4" height="1" fill="#e1e1e5"/>
<text x="1447.7" y="516.8" font-size="12" font-weight="normal" fill="#131722" text-anchor="start" textLength="28.6" lengthAdjust="spacingAndGlyphs">75.00</text>
<rect x="1438" y="547" width="4" height="1" fill="#e1e1e5"/>
<text x="1447.7" y="551.8" font-size="12" font-weight="normal" fill="#131722" text-anchor="start" textLength="28.6" lengthAdjust="spacingAndGlyphs">50.00</text>
<rect x="1438" y="582" width="4" height="1" fill="#e1e1e5"/>
<text x="1447.7" y="586.8" font-size="12" font-weight="normal" fill="#131722" text-anchor="start" textLength="28.6" lengthAdjust="spacingAndGlyphs">25.00</text>
</g>
<g clip-path="url(#cax3)">
<rect x="1438" y="594" width="4" height="1" fill="#e1e1e5"/>
<text x="1447.7" y="598.3" font-size="12" font-weight="normal" fill="#131722" text-anchor="start" textLength="34.5" lengthAdjust="spacingAndGlyphs">200.00</text>
<rect x="1438" y="628" width="4" height="1" fill="#e1e1e5"/>
<text x="1447.7" y="632.8" font-size="12" font-weight="normal" fill="#131722" text-anchor="start" textLength="34.5" lengthAdjust="spacingAndGlyphs">100.00</text>
<rect x="1438" y="664" width="4" height="1" fill="#e1e1e5"/>
<text x="1447.7" y="667.8" font-size="12" font-weight="normal" fill="#131722" text-anchor="start" textLength="22.6" lengthAdjust="spacingAndGlyphs">0.00</text>
</g>
<rect x="1455.5" y="50.5" width="27" height="18" rx="4" ry="4" fill="#fff" stroke="#e1e1e5" stroke-width="1"/>
<text x="1458.6" y="63.6" font-size="12" font-weight="normal" fill="#131722" text-anchor="start" textLength="20.5" lengthAdjust="spacingAndGlyphs">USD</text>
<rect x="34" y="691" width="1" height="4" fill="#e1e1e5"/>
<text x="27.9" y="708.3" font-size="12" font-weight="normal" fill="#131722" text-anchor="start" textLength="11.6" lengthAdjust="spacingAndGlyphs">15</text>
<rect x="116" y="691" width="1" height="4" fill="#e1e1e5"/>
<text x="109.8" y="708.3" font-size="12" font-weight="normal" fill="#131722" text-anchor="start" textLength="11.6" lengthAdjust="spacingAndGlyphs">23</text>
<rect x="208" y="691" width="1" height="4" fill="#e1e1e5"/>
<text x="198.3" y="708.3" font-size="12" font-weight="normal" fill="#131722" text-anchor="start" textLength="18.9" lengthAdjust="spacingAndGlyphs">Apr</text>
<rect x="321" y="691" width="1" height="4" fill="#e1e1e5"/>
<text x="314.5" y="708.3" font-size="12" font-weight="normal" fill="#131722" text-anchor="start" textLength="11.6" lengthAdjust="spacingAndGlyphs">12</text>
<rect x="402" y="691" width="1" height="4" fill="#e1e1e5"/>
<text x="396.3" y="708.3" font-size="12" font-weight="normal" fill="#131722" text-anchor="start" textLength="11.6" lengthAdjust="spacingAndGlyphs">20</text>
<rect x="515" y="691" width="1" height="4" fill="#e1e1e5"/>
<text x="503.7" y="708.3" font-size="12" font-weight="normal" fill="#131722" text-anchor="start" textLength="22.0" lengthAdjust="spacingAndGlyphs">May</text>
<rect x="607" y="691" width="1" height="4" fill="#e1e1e5"/>
<text x="601.0" y="708.3" font-size="12" font-weight="normal" fill="#131722" text-anchor="start" textLength="11.6" lengthAdjust="spacingAndGlyphs">10</text>
<rect x="750" y="691" width="1" height="4" fill="#e1e1e5"/>
<text x="744.3" y="708.3" font-size="12" font-weight="normal" fill="#131722" text-anchor="start" textLength="11.6" lengthAdjust="spacingAndGlyphs">24</text>
<rect x="832" y="691" width="1" height="4" fill="#e1e1e5"/>
<text x="822.2" y="708.3" font-size="12" font-weight="normal" fill="#131722" text-anchor="start" textLength="19.5" lengthAdjust="spacingAndGlyphs">Jun</text>
<rect x="965" y="691" width="1" height="4" fill="#e1e1e5"/>
<text x="959.2" y="708.3" font-size="12" font-weight="normal" fill="#131722" text-anchor="start" textLength="11.6" lengthAdjust="spacingAndGlyphs">14</text>
<rect x="1047" y="691" width="1" height="4" fill="#e1e1e5"/>
<text x="1041.0" y="708.3" font-size="12" font-weight="normal" fill="#131722" text-anchor="start" textLength="11.6" lengthAdjust="spacingAndGlyphs">22</text>
<rect x="1139" y="691" width="1" height="4" fill="#e1e1e5"/>
<text x="1130.9" y="708.3" font-size="12" font-weight="normal" fill="#131722" text-anchor="start" textLength="16.0" lengthAdjust="spacingAndGlyphs">Jul</text>
<rect x="1252" y="691" width="1" height="4" fill="#e1e1e5"/>
<text x="1245.7" y="708.3" font-size="12" font-weight="normal" fill="#131722" text-anchor="start" textLength="11.6" lengthAdjust="spacingAndGlyphs">12</text>
<rect x="1334" y="691" width="1" height="4" fill="#e1e1e5"/>
<text x="1327.5" y="708.3" font-size="12" font-weight="normal" fill="#131722" text-anchor="start" textLength="11.6" lengthAdjust="spacingAndGlyphs">20</text>
<text x="57.3" y="302.8" font-size="14" font-weight="normal" fill="#0e1118" text-anchor="start" textLength="167.9" lengthAdjust="spacingAndGlyphs">Head &amp; Shoulders Neckline</text>
<text x="1342.0" y="394.1" font-size="12" font-weight="normal" fill="#0e1118" text-anchor="start" textLength="86.5" lengthAdjust="spacingAndGlyphs">78.60%(0.55581)</text>
<text x="1300.8" y="227.6" font-size="12" font-weight="normal" fill="#0e1118" text-anchor="start" textLength="66.7" lengthAdjust="spacingAndGlyphs">Death Cross</text>
<text x="15.0" y="65.0" font-size="12" font-weight="bold" fill="#0e1118" text-anchor="start" textLength="22.1" lengthAdjust="spacingAndGlyphs">XRP</text>
<text x="40.9" y="65.0" font-size="12" font-weight="bold" fill="#0e1118" text-anchor="start" textLength="5.6" lengthAdjust="spacingAndGlyphs">/</text>
<text x="50.6" y="65.0" font-size="12" font-weight="bold" fill="#0e1118" text-anchor="start" textLength="22.4" lengthAdjust="spacingAndGlyphs">U.S.</text>
<text x="77.7" y="65.0" font-size="12" font-weight="bold" fill="#0e1118" text-anchor="start" textLength="37.5" lengthAdjust="spacingAndGlyphs">Dollar,</text>
<text x="119.6" y="65.0" font-size="12" font-weight="bold" fill="#0e1118" text-anchor="start" textLength="18.3" lengthAdjust="spacingAndGlyphs">1D,</text>
<text x="142.9" y="65.0" font-size="12" font-weight="bold" fill="#0e1118" text-anchor="start" textLength="51.3" lengthAdjust="spacingAndGlyphs">BITFINEX</text>
<text x="15.4" y="81.6" font-size="12" font-weight="normal" fill="#0e1118" text-anchor="start" textLength="19.2" lengthAdjust="spacingAndGlyphs">MA</text>
<text x="38.7" y="81.6" font-size="12" font-weight="normal" fill="#0e1118" text-anchor="start" textLength="76.7" lengthAdjust="spacingAndGlyphs">(200, close, 0)</text>
<text x="15.4" y="98.5" font-size="12" font-weight="normal" fill="#0e1118" text-anchor="start" textLength="19.2" lengthAdjust="spacingAndGlyphs">MA</text>
<text x="38.7" y="98.5" font-size="12" font-weight="normal" fill="#0e1118" text-anchor="start" textLength="69.7" lengthAdjust="spacingAndGlyphs">(50, close, 0)</text>
<text x="15.6" y="508.9" font-size="12" font-weight="normal" fill="#0e1118" text-anchor="start" textLength="16.2" lengthAdjust="spacingAndGlyphs">RSI</text>
<text x="36.6" y="508.9" font-size="12" font-weight="normal" fill="#0e1118" text-anchor="start" textLength="20.2" lengthAdjust="spacingAndGlyphs">(14,</text>
<text x="61.5" y="508.9" font-size="12" font-weight="normal" fill="#0e1118" text-anchor="start" textLength="31.3" lengthAdjust="spacingAndGlyphs">close)</text>
<text x="15.7" y="608.9" font-size="12" font-weight="normal" fill="#0e1118" text-anchor="start" textLength="22.0" lengthAdjust="spacingAndGlyphs">PPO</text>
<text x="41.9" y="608.9" font-size="12" font-weight="normal" fill="#0e1118" text-anchor="start" textLength="13.3" lengthAdjust="spacingAndGlyphs">(1,</text>
<text x="59.4" y="608.9" font-size="12" font-weight="normal" fill="#0e1118" text-anchor="start" textLength="16.5" lengthAdjust="spacingAndGlyphs">50,</text>
<text x="80.6" y="608.9" font-size="12" font-weight="normal" fill="#0e1118" text-anchor="start" textLength="31.0" lengthAdjust="spacingAndGlyphs">close)</text>
<text x="6.4" y="16.9" font-size="12.5" font-weight="bold" fill="#0c0e15" text-anchor="start" textLength="88.7" lengthAdjust="spacingAndGlyphs">CryptoFXStreet</text>
<text x="99.8" y="16.9" font-size="12.5" font-weight="normal" fill="#0c0e15" text-anchor="start" textLength="50.9" lengthAdjust="spacingAndGlyphs">published</text>
<text x="155.4" y="16.9" font-size="12.5" font-weight="normal" fill="#0c0e15" text-anchor="start" textLength="13.3" lengthAdjust="spacingAndGlyphs">on</text>
<text x="172.4" y="16.9" font-size="12.5" font-weight="normal" fill="#0c0e15" text-anchor="start" textLength="101.7" lengthAdjust="spacingAndGlyphs">TradingView.com,</text>
<text x="278.3" y="16.9" font-size="12.5" font-weight="normal" fill="#0c0e15" text-anchor="start" textLength="19.3" lengthAdjust="spacingAndGlyphs">July</text>
<text x="302.6" y="16.9" font-size="12.5" font-weight="normal" fill="#0c0e15" text-anchor="start" textLength="14.2" lengthAdjust="spacingAndGlyphs">19,</text>
<text x="322.5" y="16.9" font-size="12.5" font-weight="normal" fill="#0c0e15" text-anchor="start" textLength="26.4" lengthAdjust="spacingAndGlyphs">2021</text>
<text x="353.9" y="16.9" font-size="12.5" font-weight="normal" fill="#0c0e15" text-anchor="start" textLength="48.4" lengthAdjust="spacingAndGlyphs">13:05:58</text>
<text x="406.3" y="16.9" font-size="12.5" font-weight="normal" fill="#0c0e15" text-anchor="start" textLength="17.3" lengthAdjust="spacingAndGlyphs">-04</text>
<text x="6.7" y="33.8" font-size="12.5" font-weight="bold" fill="#0c0e15" text-anchor="start" textLength="107.4" lengthAdjust="spacingAndGlyphs">BITFINEX:XRPUSD,</text>
<text x="119.0" y="33.8" font-size="12.5" font-weight="bold" fill="#0c0e15" text-anchor="start" textLength="14.3" lengthAdjust="spacingAndGlyphs">1D</text>
<text x="139.4" y="33.8" font-size="12.5" font-weight="normal" fill="#0c0e15" text-anchor="start" textLength="45.2" lengthAdjust="spacingAndGlyphs">0.55664</text>
<text x="202.4" y="33.8" font-size="12.5" font-weight="normal" fill="#0c0e15" text-anchor="start" textLength="51.3" lengthAdjust="spacingAndGlyphs">−0.03057</text>
<text x="259.1" y="33.8" font-size="12.5" font-weight="normal" fill="#0c0e15" text-anchor="start" textLength="48.2" lengthAdjust="spacingAndGlyphs">(−5.21%)</text>
<path d="M187.9 25.2 H198.2 L193.05 34.7 Z" fill="#ef5350"/>
<text x="312.6" y="33.8" font-size="12.5" font-weight="bold" fill="#0c0e15" text-anchor="start" textLength="11.8" lengthAdjust="spacingAndGlyphs">O:</text>
<text x="326.2" y="33.8" font-size="12.5" font-weight="normal" fill="#ef5350" text-anchor="start" textLength="45.3" lengthAdjust="spacingAndGlyphs">0.58721</text>
<text x="376.9" y="33.8" font-size="12.5" font-weight="bold" fill="#0c0e15" text-anchor="start" textLength="11.5" lengthAdjust="spacingAndGlyphs">H:</text>
<text x="390.4" y="33.8" font-size="12.5" font-weight="normal" fill="#ef5350" text-anchor="start" textLength="45.2" lengthAdjust="spacingAndGlyphs">0.59010</text>
<text x="440.7" y="33.8" font-size="12.5" font-weight="bold" fill="#0c0e15" text-anchor="start" textLength="8.3" lengthAdjust="spacingAndGlyphs">L:</text>
<text x="451.1" y="33.8" font-size="12.5" font-weight="normal" fill="#ef5350" text-anchor="start" textLength="45.1" lengthAdjust="spacingAndGlyphs">0.55382</text>
<text x="501.4" y="33.8" font-size="12.5" font-weight="bold" fill="#0c0e15" text-anchor="start" textLength="9.3" lengthAdjust="spacingAndGlyphs">C:</text>
<text x="512.7" y="33.8" font-size="12.5" font-weight="normal" fill="#ef5350" text-anchor="start" textLength="45.8" lengthAdjust="spacingAndGlyphs">0.55664</text>
<g transform="translate(6.2,727.9) scale(0.628)" fill="#131722"><path d="M14 22H7V11H0V4h14v18zM28 22h-8l7.5-18h8L28 22z"/><circle cx="20" cy="8" r="4"/></g>
<text x="33.3" y="741.7" font-size="15.8" font-weight="bold" fill="#0e1118" text-anchor="start" textLength="91.5" lengthAdjust="spacingAndGlyphs">TradingView</text>
</g>
<rect x="6.5" y="43.5" width="1495" height="675" fill="none" stroke="#000" stroke-width="1" shape-rendering="crispEdges"/>
</svg>
</body></html>
